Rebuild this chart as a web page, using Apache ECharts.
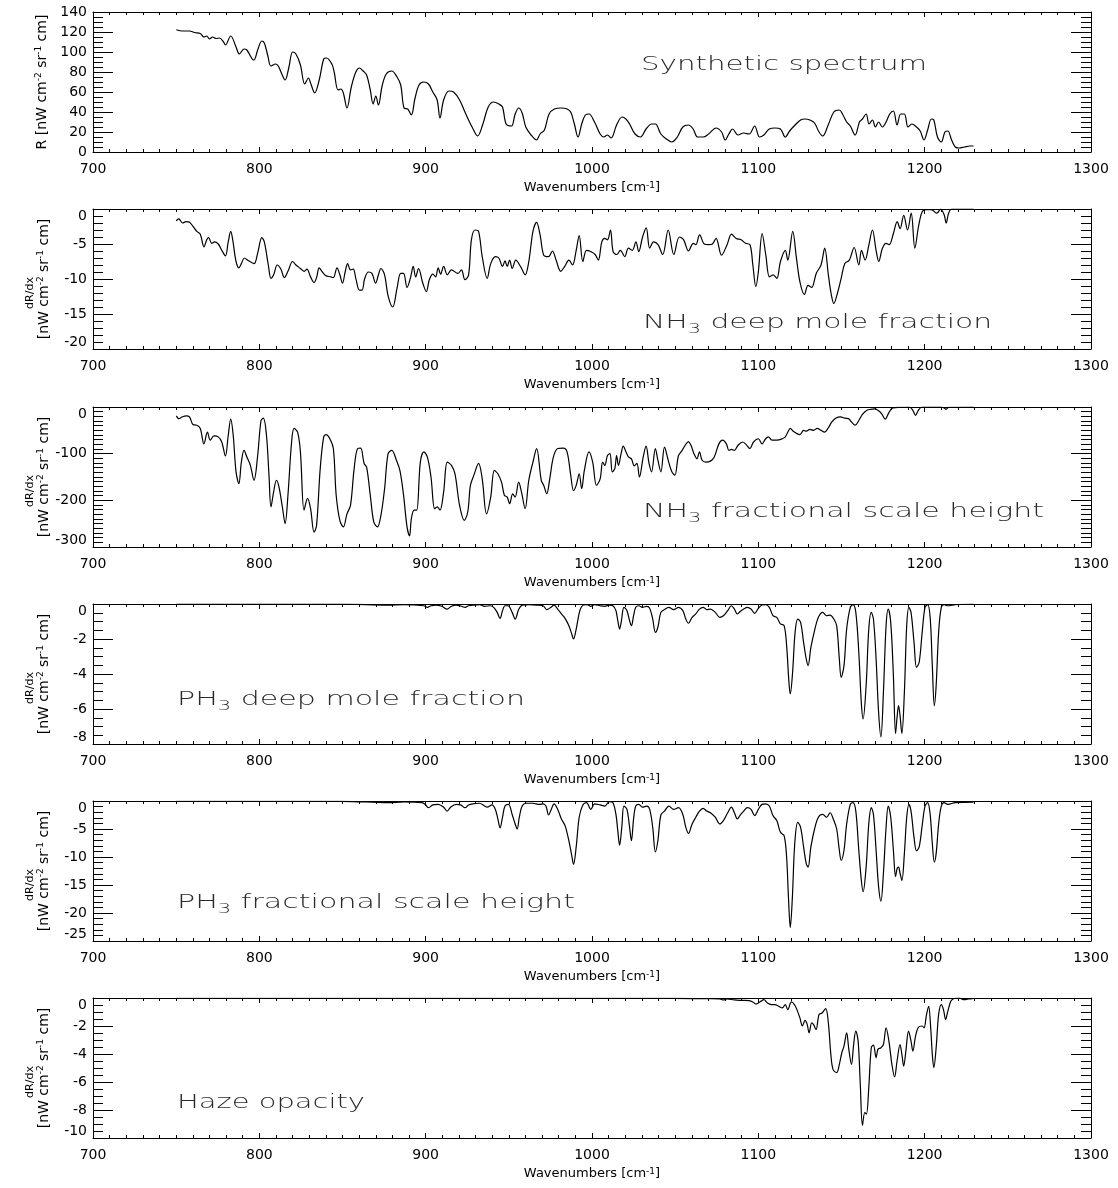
<!DOCTYPE html>
<html>
<head>
<meta charset="utf-8">
<script src="https://cdn.jsdelivr.net/npm/echarts@6/dist/echarts.min.js"></script>
<style>
  html, body { margin: 0; padding: 0; background: #fff; }
  #chart { width: 1118px; height: 1188px; }
</style>
</head>
<body>
<div id="chart"></div>
<script>
// ---- Spectrum and Jacobians: [wavenumber (cm^-1), value] ----
const synthSpectrum = [
  [750.1,122.3],[753.8,121],[758,121],[761,119.5],[764.5,118.5],[766.7,115],[768.4,116],[770,113],[772,115],[774,113.5],
  [776,114],[778.5,110],[779.6,107],[782.8,116],[786,105],[788,98],[790.8,103],[792.5,102],[795.7,93],[796.8,92],
  [799,102],[801.5,111],[803,109],[805,97],[807,86],[809.7,88],[811.4,86],[813,80],[815.5,72],[817.8,85],
  [820,100],[822,98],[824.7,87],[827.3,68],[829.5,74],[831,68],[833.3,59],[836,72],[838.7,93],[840.4,94],
  [843.6,88],[845,80],[847.3,62],[849,63],[850.5,59],[852.7,44],[855.3,65],[858,80],[860.2,84],[862.4,81],
  [864.5,77],[866.7,62],[868.4,48],[870,56],[871.6,47],[873.8,66],[876.3,78],[879.6,81],[882.8,75],[885,67],
  [887,44],[889.2,43],[891.4,37],[893.5,53],[896,67],[898.9,70],[901.7,68],[904.3,60],[906.9,52],[908.6,34],
  [910.8,52],[914,61],[916.8,60],[920.4,52],[923.6,40],[927.9,25],[931.2,16],[934.4,28],[937.6,45],[940.9,50],
  [944,48],[946.2,45],[948.4,28],[951.6,26],[953.8,38],[955.9,44],[958,39],[960.2,25],[963.4,17],[966.6,12],
  [968.8,18],[971.4,22],[974.2,38],[977.4,43],[981.6,44],[985,43],[987.2,40],[989.4,28],[991.6,15],[993.8,28],
  [996,37],[998.2,38],[1001.5,30],[1004.9,18],[1007.1,15],[1009.3,17],[1011.5,14],[1014.8,27],[1018.1,35],[1020.4,33],
  [1022.6,28],[1025.9,18],[1029.2,15],[1032.5,23],[1035.8,28],[1038.1,28],[1041.4,18],[1044.7,13],[1048,10],[1051.3,15],
  [1054.6,25],[1058,27],[1060.8,23],[1063.5,15],[1066.8,15],[1070.1,18],[1074.6,24],[1077.9,20],[1080.1,12],[1082.3,18],
  [1084.5,23],[1087.8,17],[1091.2,19],[1094.5,18],[1097.8,26],[1100.7,15],[1103.3,17],[1106.6,23],[1110,24],[1113.3,23],
  [1116.2,15],[1118.8,21],[1122.1,27],[1125.4,32],[1128.1,33],[1131,32],[1133.8,29],[1136.5,20],[1138.7,16],[1142,27],
  [1145.4,40],[1148.7,42],[1150.9,37],[1153.1,30],[1155.3,26],[1158.2,17],[1160.8,30],[1162.6,33],[1164.8,38],[1166.6,28],
  [1168.6,32],[1170.4,25],[1172.3,30],[1174.6,25],[1176.8,30],[1179,38],[1181.2,41],[1183.4,27],[1185.6,38],[1187.8,38],
  [1190,25],[1192.3,28],[1195.1,25],[1197.3,21],[1199.6,12],[1201.8,22],[1204,33],[1205.5,32],[1207.7,15],[1210,10],
  [1212.2,20],[1213.9,21],[1216.2,12],[1218.4,5],[1220.6,4],[1223.9,5],[1227.2,6],[1229.4,6]
];

const nh3DeepMoleFraction = [
  [750,-1.7],[751.6,-1.4],[753.8,-2.0],[756,-1.8],[758,-1.9],[760.2,-2.5],[762.4,-3.2],[764.5,-3.6],[766.7,-5.4],[768.4,-4.4],
  [769.5,-4.1],[771.4,-4.9],[773,-4.7],[775.3,-5.0],[777.4,-5.9],[779.6,-6.7],[781.3,-4.7],[782.8,-3.2],[784,-4.4],[786,-7.5],
  [787.7,-8.4],[789.2,-7.8],[791,-7.0],[793.5,-7.4],[796.8,-7.8],[799,-6.3],[801.5,-4.1],[803,-4.7],[805.4,-8.0],[807,-9.9],
  [808.6,-9.4],[810.8,-8.0],[813,-8.6],[815,-9.8],[817.2,-8.9],[820,-7.5],[822,-8.0],[824.7,-8.5],[826.9,-8.9],[828.6,-8.6],
  [830.8,-9.7],[832.9,-10.5],[834.4,-9.8],[836,-8.4],[837.6,-8.9],[839.8,-9.5],[843,-9.7],[844.5,-9.8],[846.7,-8.4],[848.4,-9.4],
  [850,-10.6],[851.6,-9.0],[853.1,-7.8],[854.8,-8.7],[856.5,-8.6],[858,-9.9],[860.2,-11.6],[861.7,-11.6],[863.4,-9.9],[865.6,-9.0],
  [867.7,-9.2],[869.9,-10.6],[871.6,-9.4],[873.1,-8.5],[875.3,-9.4],[877.4,-12.4],[880.2,-14.0],[882.8,-11.3],[885,-9.2],[886.7,-9.2],
  [888.8,-11.2],[891,-9.7],[892.5,-8.2],[894,-9.7],[895.7,-8.5],[898.3,-10.6],[900.4,-11.8],[902.2,-10.1],[904.3,-9.3],[906,-9.7],
  [907.5,-8.4],[909,-9.3],[910.8,-8.2],[913,-9.4],[915.5,-8.7],[919.4,-9.2],[921.5,-8.7],[923.6,-10.1],[925.8,-9.4],[927.5,-4.4],
  [929.7,-3.0],[931.8,-3.2],[934,-6.8],[937,-9.9],[939.1,-7.8],[941.9,-6.8],[944,-7.0],[946.2,-8.2],[947.7,-7.4],[949,-8.2],
  [950.5,-7.3],[952,-8.5],[954.2,-7.3],[957,-8.2],[959.8,-9.4],[962,-7.5],[964.5,-3.2],[966.7,-1.9],[968.8,-3.7],[971,-6.6],
  [973.9,-6.8],[976.2,-6.0],[978.4,-7.3],[981.2,-8.9],[983.6,-8.2],[986.1,-7.3],[988.3,-8.0],[990.5,-5.9],[992.3,-3.8],[994.5,-7.5],
  [996.7,-5.9],[999.4,-6.1],[1001.9,-6.5],[1003.8,-7.3],[1005.9,-4.7],[1007.7,-4.2],[1009.3,-4.4],[1011.1,-3.0],[1012.7,-6.1],[1014.9,-6.5],
  [1017.1,-5.9],[1019.7,-6.8],[1021.9,-5.6],[1024.2,-5.9],[1026.4,-4.7],[1028.1,-6.1],[1030.4,-4.0],[1032.6,-2.7],[1034.7,-5.6],[1037,-4.7],
  [1039.7,-5.1],[1042.5,-6.5],[1045.8,-3.0],[1049.2,-6.5],[1052.5,-4.0],[1055.1,-4.4],[1058,-6.0],[1060.9,-4.9],[1062.4,-5.1],[1064.7,-3.7],
  [1067.5,-5.0],[1070.2,-5.1],[1072.4,-5.0],[1074.6,-4.2],[1077.9,-6.6],[1081.2,-5.1],[1083.9,-3.6],[1086.7,-4.2],[1089.7,-4.4],[1092.3,-4.9],
  [1095,-5.1],[1096.7,-8.0],[1098.5,-11.1],[1100,-9.0],[1102.3,-3.5],[1104.5,-6.6],[1106.7,-9.7],[1108.9,-9.4],[1111.1,-9.9],[1113.3,-7.5],
  [1116.2,-5.9],[1117.7,-7.3],[1120.7,-3.2],[1122.8,-6.8],[1125,-10.4],[1127.7,-12.2],[1129.9,-10.9],[1132.1,-11.2],[1134.8,-9.2],[1137.7,-8.0],
  [1139.9,-5.6],[1142.1,-9.4],[1143.7,-12.0],[1145.4,-13.5],[1147.6,-12.0],[1149.8,-9.9],[1152,-7.8],[1154.7,-7.3],[1157.6,-5.5],[1160.4,-8.0],
  [1162,-5.9],[1164.2,-7.3],[1166.4,-5.2],[1168.6,-3.0],[1170.8,-5.9],[1172.4,-7.5],[1174.6,-5.6],[1176.8,-4.9],[1178.6,-5.1],[1181.2,-3.5],
  [1183.5,-1.8],[1185.2,-2.8],[1187.4,-0.9],[1189.7,-3.0],[1191.9,-0.6],[1194.1,-5.6],[1196.3,-2.5],[1198.5,-0.4],[1200.7,-0.1],[1204,-0.1],
  [1207.3,-0.6],[1209.6,0],[1211.8,-0.9],[1212.9,-2.0],[1214.4,-0.6],[1216.2,0],[1229.4,0]
];

const nh3ScaleHeight = [
  [750.1,-19],[751.6,-25],[753.8,-21],[756,-19],[758,-21],[760.2,-38],[762.4,-39],[764.5,-46],[766.7,-79],[768.8,-54],
  [770.5,-71],[772.7,-62],[775.3,-64],[777.4,-75],[779.6,-105],[781.3,-61],[782.8,-26],[784.3,-61],[786,-139],[787.7,-164],
  [789.2,-118],[790.8,-93],[792.5,-107],[794.6,-125],[796.8,-157],[799,-104],[801,-29],[802.4,-24],[804.3,-61],[805.8,-146],
  [807,-214],[808.6,-182],[810.3,-157],[811.8,-171],[814,-218],[815.5,-250],[817.2,-189],[819.4,-75],[820.9,-46],[823,-54],
  [824.7,-96],[826.9,-221],[829,-196],[830.8,-218],[832.9,-268],[834.4,-254],[836.6,-132],[838.7,-64],[840.2,-59],[842.4,-68],
  [844.5,-89],[846.2,-189],[848.4,-243],[850.5,-257],[852.7,-229],[854.8,-211],[857,-132],[859.1,-89],[860.9,-88],[863,-121],
  [864.5,-129],[866.7,-189],[868.8,-246],[871,-257],[873.1,-232],[875.3,-175],[877.4,-100],[879.6,-93],[882.4,-114],[884.5,-136],
  [886.7,-189],[888.8,-257],[890.3,-276],[891.4,-239],[893.1,-221],[894.6,-221],[896.8,-118],[898.9,-96],[901,-107],[903.2,-150],
  [905.4,-218],[906.9,-214],[908.6,-221],[910.8,-182],[913,-118],[915.5,-125],[917.6,-143],[920.4,-211],[923.2,-243],[925.3,-225],
  [926.9,-168],[929,-146],[931.8,-121],[934,-154],[936.6,-229],[939.1,-193],[941.3,-136],[943.4,-143],[945.6,-161],[947.3,-189],
  [949,-193],[950.5,-207],[952.3,-186],[953.8,-193],[955.9,-161],[957.6,-182],[959.8,-218],[962,-157],[964.5,-118],[966.7,-89],
  [969.5,-157],[971,-168],[972.8,-186],[974.6,-154],[976.8,-107],[979.4,-89],[982.7,-88],[985,-96],[987.2,-146],[988.9,-179],
  [990.5,-168],[992.3,-143],[993.8,-175],[995.4,-136],[998.2,-96],[1000.4,-118],[1002.7,-168],[1004.9,-154],[1006.4,-118],[1007.7,-125],
  [1009.3,-104],[1010.8,-100],[1012.2,-139],[1013.7,-132],[1014.8,-104],[1015.9,-125],[1017.5,-100],[1018.8,-84],[1020.4,-96],[1021.9,-107],
  [1023.7,-111],[1025.4,-126],[1027,-121],[1028.5,-150],[1030.8,-107],[1032.5,-84],[1034.3,-121],[1035.8,-139],[1038.1,-89],[1039.6,-114],
  [1041.4,-139],[1043.6,-86],[1045.8,-114],[1048,-139],[1049.8,-146],[1052,-104],[1054.2,-93],[1056,-82],[1058,-74],[1059.5,-82],
  [1061.3,-100],[1063.1,-111],[1064.6,-96],[1066.2,-114],[1068.4,-118],[1071.2,-116],[1073.5,-107],[1076.3,-79],[1078.5,-71],[1080.8,-79],
  [1082.3,-93],[1083.8,-91],[1085.6,-93],[1087.8,-82],[1090.5,-75],[1092.3,-79],[1094.9,-89],[1097.1,-75],[1100,-68],[1102.2,-79],
  [1104.4,-68],[1106,-64],[1108.2,-71],[1111.1,-71],[1114.4,-68],[1116.2,-64],[1117.7,-54],[1119.2,-46],[1121,-52],[1123.2,-57],
  [1125,-59],[1127.2,-50],[1128.8,-52],[1131,-48],[1133.2,-50],[1135.4,-46],[1137.6,-50],[1139.8,-54],[1142,-45],[1144.2,-32],
  [1146.5,-24],[1149.3,-21],[1152,-24],[1154.2,-25],[1156,-32],[1158.2,-39],[1160.4,-29],[1162.6,-16],[1165.3,-7],[1167.5,-5],
  [1169.7,-4],[1171.9,-7],[1174.1,-14],[1176.3,-26],[1178.5,-12],[1180.8,-2],[1184.1,-1],[1187.4,-1],[1190.7,0],[1192.9,-7],
  [1194.5,-18],[1196.2,-7],[1198.5,0],[1202.9,0],[1209.5,0],[1211.7,-2],[1212.8,-5],[1214.4,-1],[1229.4,0]
];

const ph3DeepMoleFraction = [
  [750,-0.01],[800,-0.01],[850,-0.01],[877.4,-0.06],[887,-0.04],[898.9,-0.1],[901,-0.19],[903.2,-0.1],[906,-0.06],[909.7,-0.13],
  [912.9,-0.29],[915.5,-0.13],[918.3,-0.06],[921.5,-0.13],[923.7,-0.19],[925.8,-0.1],[929,-0.06],[932.3,-0.04],[935.5,-0.13],[938.7,-0.1],
  [940.9,-0.19],[943,-0.48],[944.7,-0.82],[946.2,-0.38],[947.7,-0.1],[949.5,-0.1],[952,-0.48],[953.8,-0.86],[955.9,-0.32],[958.1,-0.06],
  [962.4,-0.04],[966.7,-0.06],[970.6,-0.1],[972.8,-0.32],[975.3,-0.19],[977.2,-0.06],[979.4,-0.29],[981.6,-0.57],[983.8,-0.82],[986.1,-1.24],
  [987.8,-1.71],[988.9,-2.0],[990.5,-1.43],[992.7,-0.38],[994.9,-0.06],[997.1,-0.04],[999.3,-0.13],[1001.5,-0.04],[1004.9,-0.1],[1007.7,-0.13],
  [1010.4,-0.06],[1012.6,-0.1],[1014.4,-0.38],[1015.5,-0.95],[1016.6,-1.43],[1017.7,-0.95],[1019.2,-0.19],[1021,-0.38],[1022.6,-0.95],[1023.7,-1.24],
  [1025,-0.67],[1026.3,-0.19],[1028.1,-0.1],[1030.3,-0.19],[1033,-0.13],[1034.7,-0.25],[1036.5,-0.86],[1038.1,-1.62],[1039.6,-1.33],[1041.4,-0.48],
  [1043.6,-0.32],[1046.2,-0.19],[1049.1,-0.32],[1052,-0.19],[1054.6,-0.38],[1056.4,-0.86],[1058,-1.1],[1060.2,-0.76],[1062.4,-0.57],[1064.6,-0.29],
  [1066.8,-0.19],[1069,-0.32],[1071.2,-0.29],[1074.1,-0.48],[1076.8,-0.76],[1079,-0.67],[1081.6,-0.38],[1083.8,-0.1],[1085.6,-0.29],[1087.4,-0.57],
  [1088.9,-0.44],[1091.2,-0.29],[1093.4,-0.19],[1095.6,-0.29],[1097.8,-0.53],[1100,-0.25],[1102.2,-0.06],[1104.4,-0.04],[1106.6,-0.19],[1108.8,-0.67],
  [1111.1,-0.76],[1113.3,-1.14],[1115.5,-1.24],[1117,-2.38],[1118.4,-4.48],[1119.2,-5.14],[1120.6,-3.9],[1122.1,-1.62],[1123.7,-0.86],[1125.4,-1.05],
  [1127.2,-2.19],[1128.8,-3.14],[1129.9,-3.52],[1131.6,-2.48],[1133.8,-1.52],[1136.1,-0.76],[1138.7,-0.48],[1141,-0.67],[1143.1,-0.63],[1145.4,-0.86],
  [1147.1,-1.24],[1148.7,-3.14],[1149.8,-4.19],[1151.5,-3.52],[1153.1,-1.43],[1155.3,-0.19],[1156.9,-0.04],[1158.6,-0.48],[1160.4,-2.76],[1161.9,-5.62],
  [1163,-6.57],[1164.8,-4.67],[1166.4,-1.43],[1167.9,-0.48],[1169.2,-0.86],[1170.8,-3.14],[1172.3,-6.19],[1173.7,-7.6],[1175.2,-5.05],[1176.8,-1.24],
  [1178.1,-0.29],[1179.6,-1.05],[1181.2,-4.1],[1182.5,-7.4],[1183.4,-6.48],[1184.3,-5.81],[1185.2,-6.38],[1186.3,-7.4],[1187.8,-5.05],[1189.2,-1.24],
  [1190.5,-0.19],[1191.8,-0.48],[1193.6,-2.19],[1195.1,-3.62],[1196.7,-3.33],[1198.5,-1.62],[1200.2,-0.19],[1201.8,-0.04],[1203.3,-0.76],[1204.6,-3.52],
  [1205.8,-5.81],[1206.9,-4.67],[1208.4,-1.62],[1210,-0.19],[1211.7,-0.04],[1213.9,-0.1],[1218.4,-0.04],[1229.4,0]
];

const ph3ScaleHeight = [
  [750,-0.05],[800,-0.05],[850,-0.05],[877.4,-0.3],[887,-0.18],[897.8,-0.3],[900,-0.7],[901.7,-1.2],[904.3,-0.7],[907.5,-0.6],
  [910.8,-1.1],[912.9,-1.8],[915,-1.1],[918.3,-0.6],[921,-0.7],[923.7,-1.2],[925.8,-0.7],[928.3,-0.5],[932.2,-0.4],[935.5,-0.9],
  [937,-1.1],[939.8,-0.7],[941.9,-1.5],[943.4,-3.2],[944.7,-4.8],[946.2,-2.9],[947.7,-0.9],[949.8,-0.6],[952,-2.4],[953.8,-4.1],
  [955,-5.0],[956.3,-2.9],[958,-0.9],[960.6,-0.4],[964.5,-0.4],[968.4,-0.6],[970.6,-0.5],[972.3,-0.9],[973.9,-2.5],[975.5,-1.5],
  [977.2,-0.5],[979.4,-1.5],[981.6,-3.2],[983.8,-4.4],[986.1,-7.1],[987.8,-9.7],[988.9,-11.3],[990.5,-8.2],[992.3,-2.9],[994.5,-0.7],
  [996.7,-0.3],[999.3,-1.5],[1001.5,-0.5],[1004.9,-0.7],[1007.7,-0.9],[1010.4,-0.1],[1012.6,-0.3],[1014.4,-2.4],[1015.5,-5.3],[1016.6,-7.9],
  [1017.9,-4.7],[1019.2,-0.9],[1021,-1.5],[1022.6,-4.7],[1023.7,-7.1],[1025,-3.2],[1026.3,-0.9],[1028.1,-0.6],[1030.3,-1.1],[1033,-0.9],
  [1034.7,-1.5],[1036.5,-4.7],[1038.1,-9.1],[1039.6,-7.1],[1041.4,-2.5],[1043.6,-1.8],[1046.2,-0.9],[1049.1,-1.5],[1052,-1.2],[1054.6,-2.4],
  [1056.4,-4.7],[1058,-5.8],[1060.2,-4.1],[1062.4,-2.9],[1064.6,-1.8],[1066.8,-1.3],[1069,-1.8],[1071.2,-2.1],[1074.1,-2.9],[1076.8,-4.1],
  [1079,-3.5],[1081.6,-2.1],[1083.8,-1.1],[1085.6,-2.1],[1087.4,-3.2],[1088.9,-2.6],[1091.2,-1.8],[1093.4,-1.2],[1095.6,-1.5],[1097.8,-2.6],
  [1100,-1.5],[1102.2,-0.6],[1104.4,-0.5],[1106.6,-0.9],[1108.8,-2.6],[1111.1,-3.5],[1113.3,-5.6],[1115.5,-6.2],[1117,-10],[1118.1,-17.1],
  [1119.2,-22.6],[1120.4,-17.6],[1121.9,-7.6],[1123.7,-3.8],[1125.4,-4.7],[1127.2,-8.2],[1128.8,-11.2],[1129.9,-11.8],[1131.6,-8.2],[1133.8,-5.0],
  [1136.1,-2.9],[1138.7,-2.4],[1141,-2.9],[1143.1,-2.1],[1145.4,-3.5],[1147.1,-5.0],[1148.7,-8.8],[1149.8,-10.6],[1151.5,-8.8],[1153.1,-4.1],
  [1155.3,-0.6],[1156.9,-0.3],[1158.6,-1.8],[1160.4,-8.8],[1161.9,-14.1],[1163,-16.2],[1164.8,-11.8],[1166.4,-4.1],[1167.9,-1.2],[1169.2,-2.4],
  [1170.8,-8.8],[1172.3,-15.3],[1173.7,-17.9],[1175.2,-12.9],[1176.8,-4.7],[1178.1,-0.9],[1179.6,-2.9],[1181.2,-8.8],[1182.5,-13.5],[1183.4,-12.1],
  [1184.3,-11.8],[1185.2,-12.9],[1186.3,-14.2],[1187.8,-9.4],[1189.2,-2.9],[1190.5,-0.6],[1191.8,-1.8],[1193.6,-6.5],[1195.1,-8.9],[1196.7,-8.2],
  [1198.5,-4.4],[1200.2,-0.9],[1201.8,-0.3],[1203.3,-2.4],[1204.6,-7.6],[1205.8,-10.9],[1206.9,-9.4],[1208.4,-4.1],[1210,-0.9],[1211.7,-0.3],
  [1213.9,-0.6],[1218.4,-0.3],[1229.4,-0.2]
];

const hazeOpacity = [
  [750,-0.02],[850,-0.02],[950,-0.02],[1050,-0.02],[1070.1,-0.05],[1076.8,-0.07],[1079,-0.14],[1081.2,-0.07],[1085.6,-0.14],[1090,-0.17],
  [1094.5,-0.19],[1096.7,-0.28],[1098.5,-0.43],[1100,-0.36],[1101.5,-0.24],[1103.3,-0.12],[1105.5,-0.36],[1107.7,-0.47],[1110,-0.47],[1112.2,-0.59],
  [1114.4,-0.71],[1116.2,-0.47],[1117.7,-0.83],[1119.9,-0.28],[1121.7,-0.47],[1123.2,-0.83],[1125,-1.42],[1126.5,-2.0],[1128.1,-1.6],[1129.4,-1.9],
  [1130.5,-2.49],[1132.1,-1.78],[1133.2,-1.9],[1134.7,-2.25],[1136.5,-1.18],[1138.3,-1.07],[1140.5,-0.76],[1142,-1.66],[1143.6,-4.03],[1144.9,-5.1],
  [1147.1,-5.33],[1148.7,-4.74],[1150.2,-3.91],[1151.5,-3.44],[1153.1,-2.49],[1154.4,-3.67],[1156,-4.74],[1157.3,-3.32],[1158.6,-2.37],[1160,-3.08],
  [1161.3,-6.16],[1162.6,-9.1],[1164,-8.18],[1165,-8.29],[1166.4,-6.4],[1167.9,-3.55],[1169.2,-3.36],[1170.8,-4.27],[1171.9,-3.67],[1173.7,-3.55],
  [1175.2,-3.32],[1176.8,-2.13],[1178.5,-3.08],[1180.3,-4.74],[1181.9,-5.64],[1183.4,-4.5],[1185.2,-3.32],[1186.3,-4.03],[1187.4,-4.86],[1188.7,-3.79],
  [1190.3,-2.37],[1191.8,-3.08],[1192.9,-3.79],[1194.5,-2.73],[1196.2,-2.09],[1198.5,-2.0],[1199.6,-2.13],[1201.1,-1.18],[1202.4,-0.59],[1203.5,-1.9],
  [1204.6,-4.03],[1205.5,-4.98],[1206.9,-3.55],[1208.4,-1.18],[1210,-0.47],[1211.3,-0.83],[1212.6,-1.54],[1213.9,-0.95],[1215.7,-0.24],[1217.3,-0.05],
  [1220.6,0],[1223.9,-0.12],[1226.1,-0.07],[1229.4,-0.02]
];

// ---- Axis ranges, one entry per panel (top to bottom) ----
const xMin = 700, xMax = 1300, xStep = 100;
const yMin = [0, -20, -300, -8, -25, -10];
const yMax = [140, 0, 0, 0, 0, 0];
const yStep = [20, 5, 100, 2, 5, 2];
const yMinorSplits = [4, 5, 10, 4, 5, 4];

// Panel captions: runs of [text, 'sub'?]
const panelTitles = [
  [['Synthetic spectrum']],
  [['NH'], ['3', 'sub'], [' deep mole fraction']],
  [['NH'], ['3', 'sub'], [' fractional scale height']],
  [['PH'], ['3', 'sub'], [' deep mole fraction']],
  [['PH'], ['3', 'sub'], [' fractional scale height']],
  [['Haze opacity']]
];
const xAxisTitle = 'Wavenumbers [cm{s|-1}]';
const radianceTitle = '{n|R [nW cm}{s|-2}{n| sr}{s|-1}{n| cm]}';
const derivTitleTop = 'dR/dx';
const derivTitleBottom = '{n|[nW cm}{s|-2}{n| sr}{s|-1}{n| cm]}';

const panelSeries = [synthSpectrum, nh3DeepMoleFraction, nh3ScaleHeight,
                     ph3DeepMoleFraction, ph3ScaleHeight, hazeOpacity];

// ---- Layout ----
const FONT = 'DejaVu Sans';
const PLOT_LEFT = 93, PLOT_WIDTH = 998, PLOT_HEIGHT = 140;
const panelTops = [12, 209, 407, 604, 801, 998];
// caption placement: left x, centre y, drawn width
const titleBoxes = [
  { x: 641, cy: 65,   w: 286 },
  { x: 643, cy: 323,  w: 349 },
  { x: 643, cy: 512,  w: 401 },
  { x: 177, cy: 700,  w: 348 },
  { x: 177, cy: 903,  w: 398 },
  { x: 177, cy: 1103, w: 188 }
];
const TITLE_SIZE = 20, SUB_SIZE = 14, TITLE_WEIGHT = 300, TITLE_INK = '#2a2a2a';

const INK = '#000';
const lineStyle = { color: INK, width: 1 };

function xAxisFor(i, pos) {
  const bottom = pos === 'bottom';
  return {
    type: 'value', gridIndex: i, position: pos,
    min: xMin, max: xMax, interval: xStep,
    axisLine: { show: true, onZero: false, lineStyle },
    axisTick: { show: true, inside: true, length: 5, lineStyle },
    minorTick: { show: true, splitNumber: 10, length: 3, lineStyle },
    splitLine: { show: false }, minorSplitLine: { show: false },
    axisLabel: {
      show: bottom, margin: 10, fontFamily: FONT, fontSize: 14, color: INK,
      formatter: v => String(v)
    },
    name: bottom ? xAxisTitle : '',
    nameLocation: 'middle', nameGap: 29,
    nameTextStyle: {
      fontFamily: FONT, fontSize: 13, color: INK,
      rich: { s: { fontFamily: FONT, fontSize: 9, color: INK, verticalAlign: 'top', lineHeight: 9 } }
    },
    silent: true
  };
}

function yAxisFor(i, pos) {
  const left = pos === 'left';
  const label = {
    show: left, margin: 6, fontFamily: FONT, fontSize: 14, color: INK,
    showMinLabel: true, showMaxLabel: true,
    formatter: v => String(v)
  };
  // end labels tucked inside the frame where the tick spacing leaves room
  if (i > 0) {
    label.verticalAlignMinLabel = 'bottom';
    label.verticalAlignMaxLabel = 'top';
  }
  return {
    type: 'value', gridIndex: i, position: pos,
    min: yMin[i], max: yMax[i], interval: yStep[i],
    axisLine: { show: true, onZero: false, lineStyle },
    axisTick: { show: true, inside: true, length: 20, lineStyle },
    minorTick: { show: true, splitNumber: yMinorSplits[i], length: 10, lineStyle },
    splitLine: { show: false }, minorSplitLine: { show: false },
    axisLabel: label,
    silent: true
  };
}

// natural text widths, used to lay out caption runs and stretch them to their box
const measureCtx = document.createElement('canvas').getContext('2d');
function runWidth(text, size) {
  measureCtx.font = TITLE_WEIGHT + ' ' + size + 'px "' + FONT + '"';
  return measureCtx.measureText(text).width;
}

const grids = [], xAxes = [], yAxes = [], series = [], graphics = [];
const nameRich = {
  n: { fontFamily: FONT, fontSize: 14, fill: INK, lineHeight: 16 },
  s: { fontFamily: FONT, fontSize: 9, fill: INK, verticalAlign: 'top', lineHeight: 9 }
};

panelSeries.forEach((data, i) => {
  grids.push({ left: PLOT_LEFT, top: panelTops[i], width: PLOT_WIDTH, height: PLOT_HEIGHT });
  xAxes.push(xAxisFor(i, 'bottom'), xAxisFor(i, 'top'));
  yAxes.push(yAxisFor(i, 'left'), yAxisFor(i, 'right'));
  series.push({
    type: 'line', xAxisIndex: 2 * i, yAxisIndex: 2 * i,
    data, showSymbol: false, smooth: 0.35, clip: true,
    lineStyle: { color: INK, width: 1.2 }, silent: true
  });

  // y-axis titles, written bottom-to-top
  const midY = panelTops[i] + PLOT_HEIGHT / 2;
  if (i === 0) {
    graphics.push({
      type: 'text', x: 42, y: midY, rotation: Math.PI / 2, silent: true,
      style: { text: radianceTitle, rich: nameRich, textAlign: 'center', textVerticalAlign: 'middle' }
    });
  } else {
    graphics.push({
      type: 'text', x: 30, y: midY + 14, rotation: Math.PI / 2, silent: true,
      style: { text: derivTitleTop, fontFamily: FONT, fontSize: 11, fill: INK,
               textAlign: 'center', textVerticalAlign: 'middle' }
    });
    graphics.push({
      type: 'text', x: 44, y: midY, rotation: Math.PI / 2, silent: true,
      style: { text: derivTitleBottom, rich: nameRich, textAlign: 'center', textVerticalAlign: 'middle' }
    });
  }

  // panel caption: runs placed side by side, subscripts dropped below the line
  const box = titleBoxes[i];
  let cursor = 0;
  const children = panelTitles[i].map(([text, kind]) => {
    const isSub = kind === 'sub';
    const size = isSub ? SUB_SIZE : TITLE_SIZE;
    const el = {
      type: 'text', x: cursor, y: isSub ? 6 : 0, silent: true,
      style: {
        text, fontFamily: FONT, fontSize: size, fontWeight: TITLE_WEIGHT, fill: TITLE_INK,
        textAlign: 'left', textVerticalAlign: 'middle'
      }
    };
    cursor += runWidth(text, size);
    return el;
  });
  graphics.push({
    type: 'group', x: box.x, y: box.cy, scaleX: box.w / cursor, silent: true,
    children
  });
});

const chart = echarts.init(document.getElementById('chart'), null, { renderer: 'canvas' });
chart.setOption({
  animation: false,
  backgroundColor: '#fff',
  grid: grids,
  xAxis: xAxes,
  yAxis: yAxes,
  series,
  graphic: graphics
});
</script>
</body>
</html>
